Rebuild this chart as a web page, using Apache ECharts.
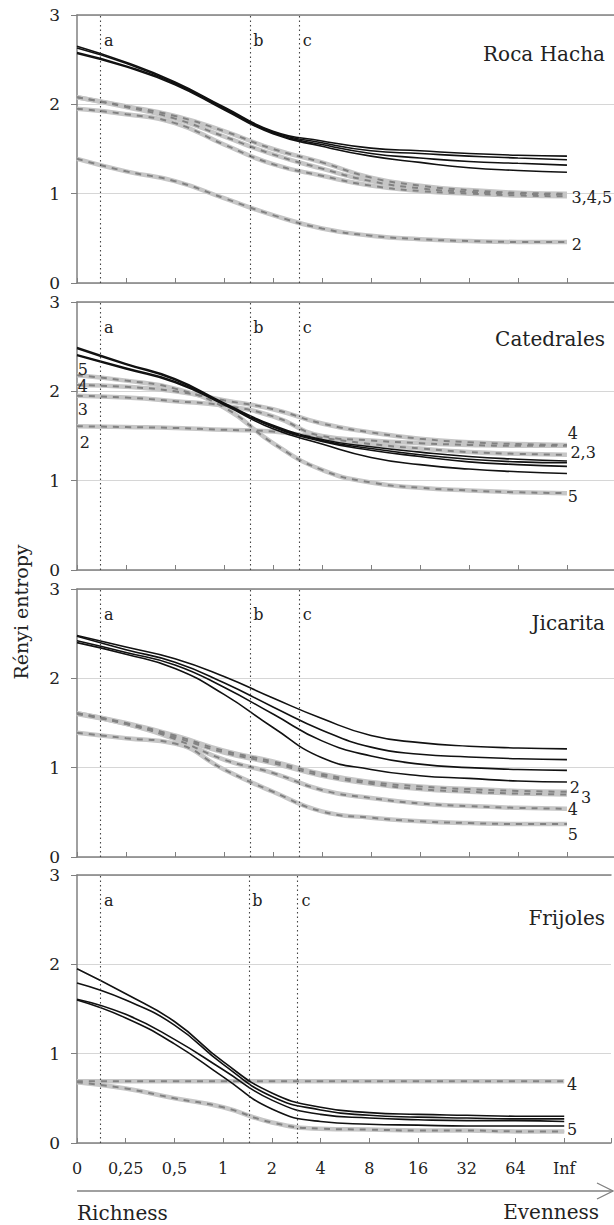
<!DOCTYPE html>
<html>
<head>
<meta charset="utf-8">
<script src="https://cdn.jsdelivr.net/npm/echarts@6/dist/echarts.min.js"></script>
<style>html,body{margin:0;padding:0;background:#fff}#chart{width:614px;height:1225px}</style>
</head>
<body>
<div id="chart"></div>
<script>
// ---------- DATA ----------
const xLabels = ['0', '0,25', '0,5', '1', '2', '4', '8', '16', '32', '64', 'Inf'];
const panelNames = ['Roca Hacha', 'Catedrales', 'Jicarita', 'Frijoles'];
const refNames = ['a', 'b', 'c'];
const refIndex = [0.48, 3.53, 4.53];

// Roca Hacha
const rocaSolid1 = [2.65, 2.47, 2.25, 1.97, 1.70, 1.59, 1.51, 1.48, 1.45, 1.43, 1.42];
const rocaSolid2 = [2.63, 2.46, 2.24, 1.96, 1.69, 1.57, 1.48, 1.45, 1.42, 1.40, 1.38];
const rocaSolid3 = [2.58, 2.43, 2.23, 1.95, 1.68, 1.55, 1.45, 1.40, 1.36, 1.34, 1.32];
const rocaSolid4 = [2.57, 2.42, 2.22, 1.94, 1.67, 1.53, 1.42, 1.35, 1.29, 1.26, 1.24];
const rocaDash2 = [1.39, 1.25, 1.14, 0.95, 0.76, 0.61, 0.53, 0.49, 0.47, 0.46, 0.46];
const rocaDash3 = [2.08, 1.98, 1.87, 1.70, 1.50, 1.35, 1.18, 1.09, 1.04, 1.01, 1.00];
const rocaDash4 = [2.08, 1.97, 1.84, 1.64, 1.44, 1.28, 1.14, 1.06, 1.02, 1.00, 0.99];
const rocaDash5 = [1.95, 1.89, 1.79, 1.55, 1.33, 1.20, 1.09, 1.03, 1.00, 0.98, 0.97];

// Catedrales
const cateSolid1 = [2.49, 2.31, 2.14, 1.87, 1.62, 1.46, 1.38, 1.32, 1.27, 1.24, 1.22];
const cateSolid2 = [2.48, 2.30, 2.13, 1.86, 1.61, 1.45, 1.36, 1.29, 1.24, 1.21, 1.20];
const cateSolid3 = [2.41, 2.26, 2.11, 1.86, 1.60, 1.44, 1.34, 1.27, 1.21, 1.18, 1.16];
const cateSolid4 = [2.40, 2.25, 2.10, 1.85, 1.58, 1.41, 1.26, 1.18, 1.13, 1.10, 1.08];
const cateDash2 = [1.61, 1.60, 1.59, 1.57, 1.55, 1.48, 1.41, 1.36, 1.32, 1.30, 1.29];
const cateDash3 = [1.95, 1.93, 1.89, 1.84, 1.72, 1.50, 1.45, 1.42, 1.40, 1.39, 1.39];
const cateDash4 = [2.07, 2.05, 2.00, 1.90, 1.80, 1.64, 1.54, 1.47, 1.43, 1.41, 1.40];
const cateDash5 = [2.18, 2.12, 2.03, 1.82, 1.42, 1.12, 0.98, 0.92, 0.89, 0.87, 0.86];

// Jicarita
const jicaSolid1 = [2.48, 2.35, 2.22, 2.02, 1.78, 1.55, 1.36, 1.28, 1.24, 1.22, 1.21];
const jicaSolid2 = [2.47, 2.32, 2.18, 1.95, 1.68, 1.42, 1.23, 1.15, 1.12, 1.10, 1.09];
const jicaSolid3 = [2.42, 2.29, 2.15, 1.90, 1.60, 1.30, 1.13, 1.04, 1.00, 0.98, 0.97];
const jicaSolid4 = [2.40, 2.27, 2.11, 1.82, 1.45, 1.11, 0.98, 0.91, 0.88, 0.85, 0.84];
const jicaDash2 = [1.61, 1.50, 1.36, 1.19, 1.07, 0.93, 0.84, 0.79, 0.76, 0.74, 0.73];
const jicaDash3 = [1.60, 1.49, 1.34, 1.17, 1.05, 0.91, 0.82, 0.76, 0.73, 0.71, 0.70];
const jicaDash4 = [1.61, 1.49, 1.32, 1.09, 0.94, 0.75, 0.66, 0.60, 0.57, 0.55, 0.54];
const jicaDash5 = [1.39, 1.33, 1.27, 0.98, 0.73, 0.51, 0.44, 0.40, 0.38, 0.37, 0.37];

// Frijoles
const friSolid1 = [1.95, 1.67, 1.36, 0.91, 0.56, 0.40, 0.34, 0.32, 0.31, 0.30, 0.30];
const friSolid2 = [1.79, 1.60, 1.32, 0.88, 0.52, 0.37, 0.31, 0.29, 0.28, 0.27, 0.27];
const friSolid3 = [1.61, 1.44, 1.16, 0.82, 0.48, 0.32, 0.28, 0.26, 0.25, 0.25, 0.24];
const friSolid4 = [1.60, 1.40, 1.11, 0.74, 0.38, 0.24, 0.21, 0.20, 0.19, 0.19, 0.19];
const friDash4 = [0.69, 0.69, 0.69, 0.69, 0.69, 0.69, 0.69, 0.69, 0.69, 0.69, 0.69];
const friDash5 = [0.68, 0.61, 0.50, 0.40, 0.23, 0.16, 0.15, 0.14, 0.14, 0.13, 0.13];

// ---------- LAYOUT / STYLE ----------
const FONT = 'DejaVu Serif';
const TXT = '#222';
const AXIS = '#808080';
const panelTops = [15, 302, 589, 875];
const panelH = 268;

const panels = [
  { solid: [rocaSolid1, rocaSolid2, rocaSolid3, rocaSolid4], dash: [rocaDash2, rocaDash3, rocaDash4, rocaDash5],
    notes: [{t: '3,4,5', x: 10.51, y: 0.96}, {t: '2', x: 10.2, y: 0.43}] },
  { solid: [cateSolid1, cateSolid2, cateSolid3, cateSolid4], dash: [cateDash2, cateDash3, cateDash4, cateDash5],
    notes: [{t: '4', x: 10.12, y: 1.53}, {t: '2,3', x: 10.33, y: 1.31}, {t: '5', x: 10.12, y: 0.82},
            {t: '5', x: 0.12, y: 2.24}, {t: '4', x: 0.12, y: 2.05}, {t: '3', x: 0.12, y: 1.80}, {t: '2', x: 0.16, y: 1.43}] },
  { solid: [jicaSolid1, jicaSolid2, jicaSolid3, jicaSolid4], dash: [jicaDash2, jicaDash3, jicaDash4, jicaDash5],
    notes: [{t: '2', x: 10.16, y: 0.78}, {t: '3', x: 10.39, y: 0.67}, {t: '4', x: 10.12, y: 0.53}, {t: '5', x: 10.12, y: 0.25}] },
  { solid: [friSolid1, friSolid2, friSolid3, friSolid4], dash: [friDash4, friDash5],
    notes: [{t: '4', x: 10.16, y: 0.65}, {t: '5', x: 10.16, y: 0.15}] }
];

const toPts = arr => arr.map((v, i) => [i, v]);
const xMax = 10.96;

const grids = [], xAxes = [], yAxes = [], series = [], titles = [];
panels.forEach((p, k) => {
  const last = k === panels.length - 1;
  grids.push({ left: 77, right: 0, top: panelTops[k], height: panelH });
  xAxes.push({
    type: 'value', gridIndex: k, min: 0, max: xMax, interval: 1, position: 'bottom',
    axisLine: { show: true, onZero: false, lineStyle: { color: AXIS, width: 1.5 } },
    axisTick: { show: true, inside: true, length: 5, lineStyle: { color: AXIS, width: 1 } },
    axisLabel: { show: last, margin: 17, color: TXT, fontFamily: FONT, fontSize: 16,
      formatter: v => (Number.isInteger(v) && xLabels[v] !== undefined) ? xLabels[v] : '' },
    splitLine: { show: false }
  });
  xAxes.push({
    type: 'value', gridIndex: k, min: 0, max: xMax, position: 'top',
    axisLine: { show: true, onZero: false, lineStyle: { color: AXIS, width: 1.5 } },
    axisTick: { show: false }, axisLabel: { show: false }, splitLine: { show: false }
  });
  yAxes.push({
    type: 'value', gridIndex: k, min: 0, max: 3, interval: 1,
    axisLine: { show: true, lineStyle: { color: AXIS, width: 1.5 } },
    axisTick: { show: true, length: 6, lineStyle: { color: AXIS, width: 1 } },
    axisLabel: { margin: 17, color: TXT, fontFamily: FONT, fontSize: 17 },
    splitLine: { show: true, lineStyle: { color: '#d6d6d6', width: 1 } }
  });
  titles.push({
    text: panelNames[k], right: 9, top: panelTops[k] + [29, 27, 24, 33][k], padding: 0,
    textStyle: { fontFamily: FONT, fontSize: 20, fontWeight: 'normal', color: TXT }
  });
  const base = { type: 'line', xAxisIndex: 2 * k, yAxisIndex: k, smooth: 0.5,
    showSymbol: false, symbol: 'none', silent: true, animation: false };
  p.dash.forEach((arr, j) => {
    series.push(Object.assign({}, base, { name: 'p' + k + 'g' + j, data: toPts(arr), z: 2,
      lineStyle: { color: '#c6c6c6', width: 4.5 } }));
  });
  p.dash.forEach((arr, j) => {
    series.push(Object.assign({}, base, { name: 'p' + k + 'd' + j, data: toPts(arr), z: 3,
      lineStyle: { color: '#828282', width: 2, type: [6, 6] } }));
  });
  p.solid.forEach((arr, j) => {
    const s = Object.assign({}, base, { name: 'p' + k + 's' + j, data: toPts(arr), z: 4,
      lineStyle: { color: '#111', width: 1.6 } });
    if (j === 0) {
      s.markLine = {
        silent: true, symbol: ['none', 'none'], animation: false,
        label: { show: false },
        lineStyle: { color: '#444', width: 1.1, type: [1.5, 3] },
        data: refIndex.map(x => ({ xAxis: x }))
      };
      const notes = refNames.map((n, i) => ({ name: n, coord: [refIndex[i] + 0.17, 2.72] }))
        .concat(p.notes.map(n => ({ name: n.t, coord: [n.x, n.y] })));
      s.markPoint = {
        silent: true, symbol: 'circle', symbolSize: 0, animation: false,
        itemStyle: { color: 'rgba(0,0,0,0)' },
        label: { show: true, position: 'inside', formatter: '{b}', color: TXT, fontFamily: FONT, fontSize: 16 },
        data: notes
      };
    }
    series.push(s);
  });
});

const chart = echarts.init(document.getElementById('chart'), null, { renderer: 'svg', width: 614, height: 1225 });
chart.setOption({
  backgroundColor: '#fff',
  animation: false,
  title: titles,
  grid: grids,
  xAxis: xAxes,
  yAxis: yAxes,
  series: series,
  graphic: [
    { type: 'text', x: 21, y: 612, rotation: Math.PI / 2,
      style: { text: 'Rényi entropy', fill: TXT, font: '19px "DejaVu Serif"', align: 'center', verticalAlign: 'middle', textAlign: 'center', textVerticalAlign: 'middle' } },
    { type: 'line', shape: { x1: 77, y1: 1191, x2: 613, y2: 1191 }, style: { stroke: AXIS, lineWidth: 1.5 } },
    { type: 'polyline', shape: { points: [[597, 1183], [613, 1191], [597, 1199]] }, style: { stroke: AXIS, lineWidth: 1.3, fill: null } },
    { type: 'text', x: 77, y: 1213,
      style: { text: 'Richness', fill: TXT, font: '20px "DejaVu Serif"', align: 'left', verticalAlign: 'middle', textAlign: 'left', textVerticalAlign: 'middle' } },
    { type: 'text', x: 599, y: 1212,
      style: { text: 'Evenness', fill: TXT, font: '20px "DejaVu Serif"', align: 'right', verticalAlign: 'middle', textAlign: 'right', textVerticalAlign: 'middle' } }
  ]
});
</script>
</body>
</html>
